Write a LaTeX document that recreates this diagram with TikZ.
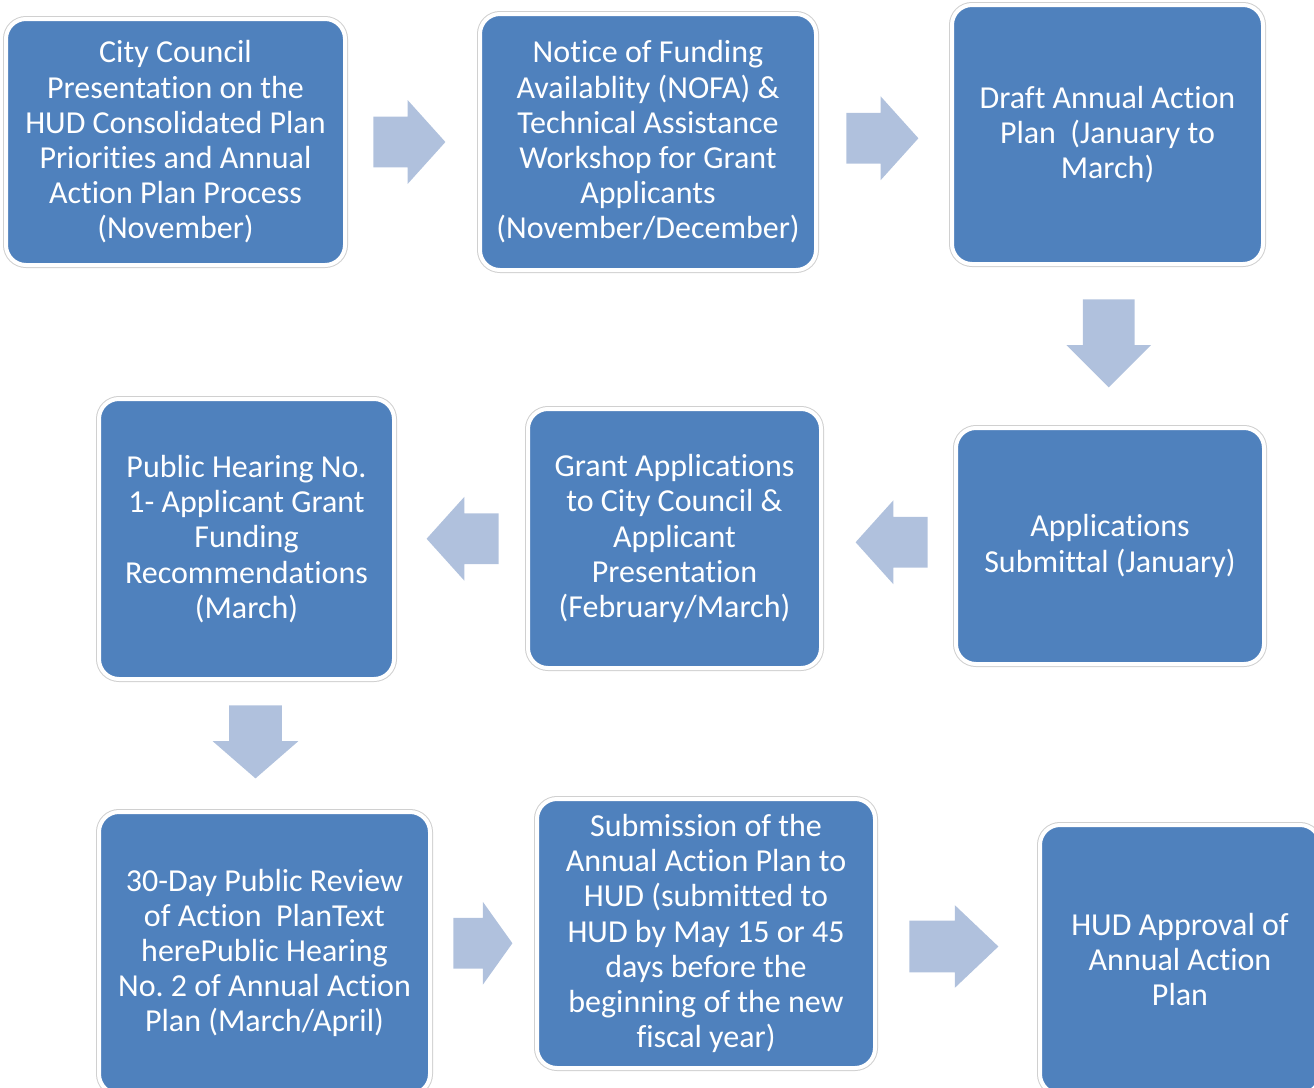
\documentclass[tikz,border=0pt]{standalone}
\usepackage{fontspec}
\setmainfont{Carlito}[Ligatures=CommonOff]
\usetikzlibrary{shapes.arrows,calc}
\definecolor{stepblue}{RGB}{79,129,189}
\definecolor{arrowblue}{RGB}{176,193,221}
\definecolor{edgegray}{RGB}{208,208,208}
\frenchspacing

\begin{document}
\begin{tikzpicture}[x=0.5pt, y=-0.5pt,
    stepbox/.style={rounded corners=10pt, fill=stepblue, draw=white, line width=2pt,
        preaction={draw=edgegray, line width=3pt},
        text=white, align=center, inner sep=0pt,
        font=\fontsize{16}{17.6}\selectfont},
    flow/.style={single arrow, fill=arrowblue, draw=none, inner xsep=0pt, inner ysep=12.5pt,
        anchor=tail, minimum height=36pt, minimum width=41.5pt,
        single arrow head extend=8.25pt, single arrow tip angle=96}]
    \useasboundingbox (0,0) rectangle (1314,1088);

    % top row
    \node[stepbox, minimum width=169.5pt, minimum height=123pt] (council) at (175.5,142)
        {City Council\\Presentation on the\\HUD Consolidated Plan\\Priorities and Annual\\Action Plan Process\\(November)};
    \node[stepbox, minimum width=168pt, minimum height=128pt] (nofa) at (648,142)
        {Notice of Funding\\Availablity (NOFA) \&\\Technical Assistance\\Workshop for Grant\\Applicants\\(November/December)};
    \node[stepbox, minimum width=155.5pt, minimum height=129.5pt] (draft) at (1107.5,134.5)
        {Draft Annual Action\\Plan\ \ (January to\\March)};

    % middle row, right to left
    \node[stepbox, minimum width=154pt, minimum height=118pt] (submit) at (1110,546)
        {Applications\\Submittal (January)};
    \node[stepbox, minimum width=146.5pt, minimum height=129.5pt] (grant) at (674.5,538.5)
        {Grant Applications\\to City Council \&\\Applicant\\Presentation\\(February/March)};
    \node[stepbox, minimum width=147.5pt, minimum height=140pt] (hearing) at (246.5,539)
        {Public Hearing No.\\1- Applicant Grant\\Funding\\Recommendations\\(March)};

    % bottom row
    \node[stepbox, minimum width=165.5pt, minimum height=141pt] (review) at (264.5,953)
        {30-Day Public Review\\of Action\ \ PlanText\\herePublic Hearing\\No. 2 of Annual Action\\Plan (March/April)};
    \node[stepbox, minimum width=169pt, minimum height=134.5pt] (hud) at (706,933.5)
        {Submission of the\\Annual Action Plan to\\HUD (submitted to\\HUD by May 15 or 45\\days before the\\beginning of the new\\fiscal year)};
    \node[stepbox, minimum width=140pt, minimum height=134.5pt] (approval) at (1180,959.5)
        {HUD Approval of\\Annual Action\\Plan};

    % block arrows between the steps, placed by their tails
    \node[flow] (a1) at ($(council.east)!0.5!(nofa.west) + (-39.5,0)$) {};
    \node[flow] (a2) at ($(nofa.east)!0.5!(draft.west) + (-38,0)$) {};
    \node[flow, rotate=-90, minimum height=44pt, minimum width=42pt, inner ysep=12.75pt,
        single arrow tip angle=90] (a3) at ($(draft.south)!0.5!(submit.north) + (0,-47)$) {};
    \node[flow, rotate=180] (a4) at ($(submit.west)!0.5!(grant.east) + (39.5,0)$) {};
    \node[flow, rotate=180] (a5) at ($(grant.west)!0.5!(hearing.east) + (38,0)$) {};
    \node[flow, rotate=-90, minimum height=36.5pt, minimum width=42.5pt, inner ysep=13pt,
        single arrow tip angle=98] (a6) at ($(hearing.south)!0.5!(review.north) + (0,-40.5)$) {};
    \node[flow, minimum height=29.5pt, minimum width=41pt,
        single arrow head extend=8pt, single arrow tip angle=109] (a7) at ($(review.east)!0.5!(hud.west) + (-30.5,0)$) {};
    \node[flow, minimum height=44.5pt, minimum width=41pt, inner ysep=12.75pt,
        single arrow head extend=7.75pt, single arrow tip angle=87] (a8) at ($(hud.east)!0.5!(approval.west) + (-48.5,0)$) {};
\end{tikzpicture}
\end{document}
